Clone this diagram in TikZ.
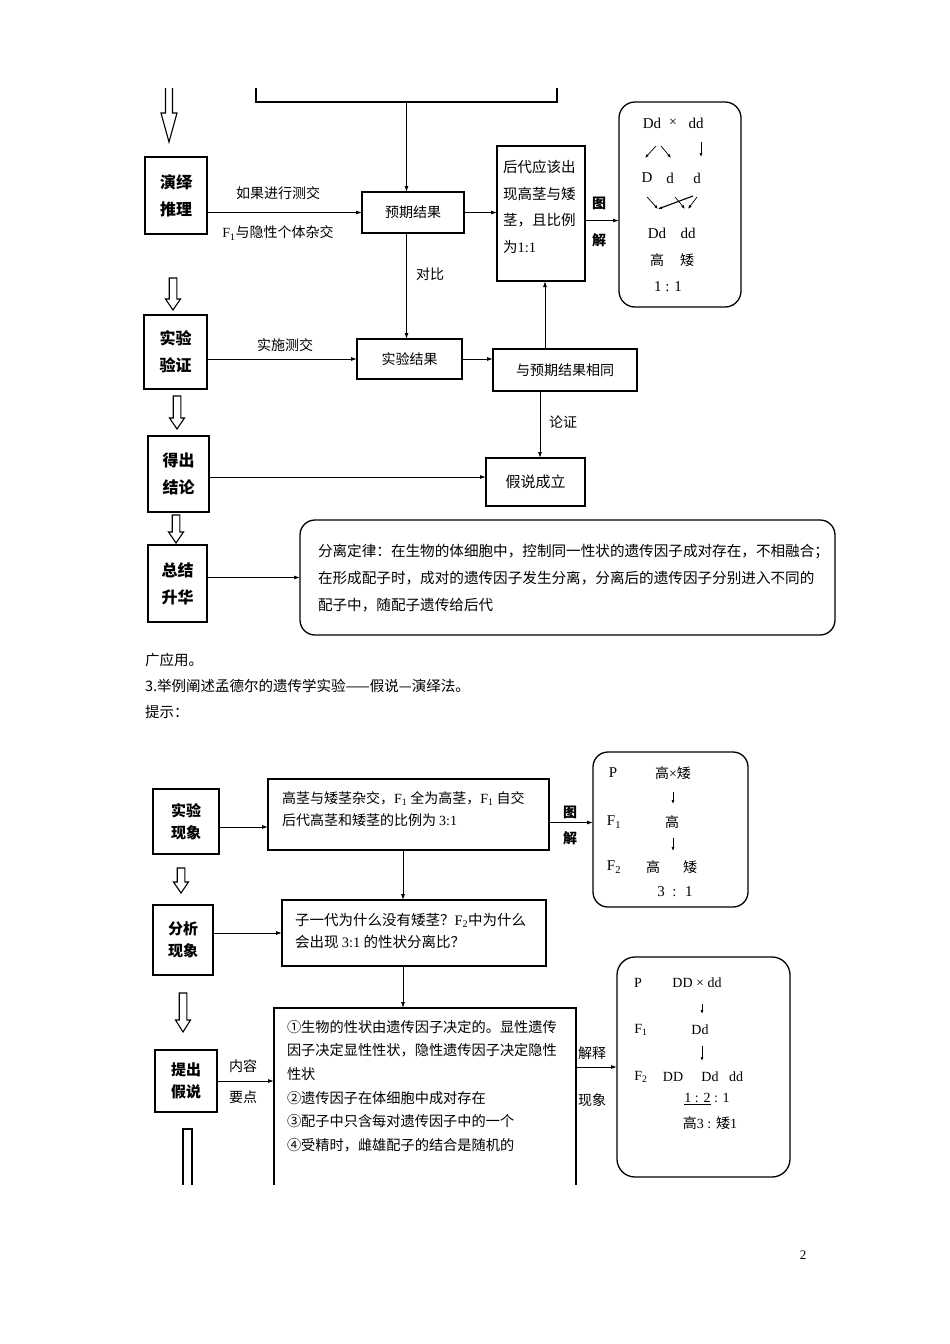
\documentclass[tikz,border=0pt]{standalone}
\usepackage{fontspec}
\setmainfont{Liberation Serif}
\newfontfamily\zh{Noto Sans CJK SC}
\usetikzlibrary{arrows.meta}
\newcommand\myF[1]{{\rmfamily F\textsubscript{#1}}}
\newcommand\hollowarr[4]{\draw[harrow] (#1-3.8,#2) -- (#1-3.8,#3-#4) -- (#1-7.5,#3-#4) -- (#1,#3) -- (#1+7.5,#3-#4) -- (#1+3.8,#3-#4) -- (#1+3.8,#2) -- cycle;}
\begin{document}
\begin{tikzpicture}[x=1pt,y=-1pt,
  every node/.style={inner sep=0pt, outer sep=0pt},
  box/.style={draw, line width=1.4pt},
  rbox/.style={draw, line width=1.3pt, rounded corners=16pt},
  conn/.style={line width=0.9pt, -{Latex[length=6pt,width=4pt]}},
  tiny/.style={line width=0.7pt, -{Latex[length=4pt,width=3pt]}},
  harrow/.style={line width=1.1pt},
  lab/.style={font=\zh\bfseries\fontsize{16}{27}\selectfont, align=center},
  labb/.style={font=\zh\bfseries\fontsize{15}{22}\selectfont, align=center},
  txt/.style={font=\zh\fontsize{14}{14}\selectfont},
  txtb/.style={font=\zh\bfseries\fontsize{14}{14}\selectfont},
  gen/.style={font=\rmfamily\fontsize{15}{15}\selectfont},
  gens/.style={font=\rmfamily\fontsize{14}{14}\selectfont},
]
\useasboundingbox (0,0) rectangle (950,1344);

% ===== top section =====
\node[minimum width=301pt, minimum height=14pt] (topbox) at (406.5,95) {};
\draw[box] (topbox.north west) -- (topbox.south west) -- (topbox.south east) -- (topbox.north east);
\draw[harrow] (165.5,88) -- (165.5,113) -- (161,113) -- (169,142) -- (177,113) -- (172.5,113) -- (172.5,88);

\node[box, minimum width=62pt, minimum height=77pt, lab] (yanyi) at (176,195.5) {演绎\\推理};
\node[box, minimum width=102pt, minimum height=41pt, txt] (yuqi) at (413,212.5) {预期结果};
\node[box, minimum width=88pt, minimum height=135pt] (houdai) at (541,213.5) {};
\node[anchor=west, align=left, font=\zh\fontsize{14.5}{26.7}\selectfont] (houdaiT) at (503,207) {后代应该出\\现高茎与矮\\茎，且比例\\为{\rmfamily 1:1}};
\node[rbox, minimum width=122pt, minimum height=205pt] (tu1) at (680,204.5) {};

\draw[conn] (topbox.south) -- (topbox.south |- yuqi.north);
\draw[conn] (yanyi.east |- yuqi.west) -- (yuqi.west);
\node[txt] (l1) at (278,193) {如果进行测交};
\node[txt] (l2) at (278,233) {\myF{1}与隐性个体杂交};
\draw[conn] (yuqi.east) -- (yuqi.east -| houdai.west);
\draw[conn] ([yshift=-7pt]houdai.east) -- ([yshift=-7pt]houdai.east -| tu1.west);
\node[txtb] (l3) at (599,203) {图};
\node[txtb] (l4) at (599,240) {解};

% tu1 contents
\node[gen] (a1) at (652,123) {Dd};
\node[gens] (a2) at (673,123) {×};
\node[gen] (a3) at (696,123) {dd};
\draw[tiny] (656,146) -- (645,158);
\draw[tiny] (661,146) -- (671,158);
\draw[tiny] (701,142) -- (701,157);
\node[gen] (b1) at (647,178) {D};
\node[gen] (b2) at (670,178) {d};
\node[gen] (b3) at (697,178) {d};
\draw[tiny] (647,197) -- (658,209);
\draw[tiny, line width=1.1pt] (693,196) -- (658,209);
\draw[tiny] (675,197) -- (685,209);
\draw[tiny] (697,197) -- (688,209);
\node[gen] (c1) at (657,233) {Dd};
\node[gen] (c2) at (688,233) {dd};
\node[txt] (c3) at (657,260) {高};
\node[txt] (c4) at (687,260) {矮};
\node[gen] (c5) at (668,287) {1 : 1};

\hollowarr{173}{278}{310}{11}
\node[box, minimum width=63pt, minimum height=74pt, lab] (yanzheng) at (175.5,352) {实验\\验证};
\node[box, minimum width=105pt, minimum height=40pt, txt] (shiyanjg) at (409.5,359) {实验结果};
\node[box, minimum width=144pt, minimum height=42pt, txt] (xiangtong) at (565,370) {与预期结果相同};
\draw[conn] (topbox.south |- yuqi.south) -- (topbox.south |- shiyanjg.north);
\node[txt] (l5) at (430,274) {对比};
\draw[conn] (yanzheng.east |- shiyanjg.west) -- (shiyanjg.west);
\node[txt] (l6) at (285,345) {实施测交};
\draw[conn] (shiyanjg.east) -- (shiyanjg.east -| xiangtong.west);
\draw[conn] ([xshift=-20pt]xiangtong.north) -- ([xshift=-20pt]xiangtong.north |- houdai.south);

\hollowarr{177}{396}{429}{11}
\node[box, minimum width=61pt, minimum height=76pt, lab] (dechu) at (178.5,474) {得出\\结论};
\node[box, minimum width=99pt, minimum height=48pt, font=\zh\fontsize{15}{15}\selectfont] (jiashuo) at (535.5,482) {假说成立};
\draw[conn] ([xshift=-25pt]xiangtong.south) -- ([xshift=-25pt]xiangtong.south |- jiashuo.north);
\node[txt] (l7) at (563,422) {论证};
\draw[conn] ([yshift=5pt]jiashuo.west -| dechu.east) -- ([yshift=5pt]jiashuo.west);

\hollowarr{176}{515}{543}{11}
\node[box, minimum width=59pt, minimum height=77pt, lab] (zongjie) at (177.5,583.5) {总结\\升华};
\node[rbox, rounded corners=15pt, minimum width=535pt, minimum height=115pt] (law) at (567.5,577.5) {};
\node[anchor=west, align=left, font=\zh\fontsize{14.6}{27}\selectfont] (lawT) at (318,578) {分离定律：在生物的体细胞中，控制同一性状的遗传因子成对存在，不相融合；\\在形成配子时，成对的遗传因子发生分离，分离后的遗传因子分别进入不同的\\配子中，随配子遗传给后代};
\draw[conn] (zongjie.east |- law.west) -- (law.west);

% ===== paragraph text =====
\node[anchor=west, align=left, font=\zh\fontsize{14.5}{26}\selectfont] (para) at (145,686) {广应用。\\3.举例阐述孟德尔的遗传学实验——假说—演绎法。\\提示：};

% ===== bottom section =====
\node[box, minimum width=66pt, minimum height=65pt, labb] (xianxiang) at (186,821.5) {实验\\现象};
\node[box, minimum width=281pt, minimum height=71pt] (gaojing) at (408.5,814.5) {};
\node[anchor=west, align=left, font=\zh\fontsize{14}{22}\selectfont] (gaojingT) at (282,809) {高茎与矮茎杂交，\myF{1} 全为高茎，\myF{1} 自交\\后代高茎和矮茎的比例为 {\rmfamily 3:1}};
\node[rbox, rounded corners=15pt, minimum width=155pt, minimum height=155pt] (tu3) at (670.5,829.5) {};
\draw[conn] ([yshift=-5.5pt]xianxiang.east) -- ([yshift=-5.5pt]xianxiang.east -| gaojing.west);
\draw[conn] ([yshift=-8pt]gaojing.east) -- ([yshift=-8pt]gaojing.east -| tu3.west);
\node[txtb] (l8) at (570,812) {图};
\node[txtb] (l9) at (570,838) {解};

% tu3 contents
\node[gen] (p1) at (613,773) {P};
\node[txt] (p2) at (673,773) {高{\rmfamily ×}矮};
\draw[tiny] (673,792) -- (673,804);
\node[gen] (p3) at (614,822) {\myF{1}};
\node[txt] (p4) at (672,822) {高};
\draw[tiny] (673,838) -- (673,851);
\node[gen] (p5) at (614,867) {\myF{2}};
\node[txt] (p6) at (653,867) {高};
\node[txt] (p7) at (690,867) {矮};
\node[gen] (p8) at (675,892) {3 \ : \ 1};

\hollowarr{181}{868}{893}{11}
\node[box, minimum width=60pt, minimum height=70pt, labb] (fenxi) at (183,940) {分析\\现象};
\node[box, minimum width=264pt, minimum height=66pt] (ziyidai) at (414,933) {};
\node[anchor=west, align=left, font=\zh\fontsize{14.5}{22}\selectfont] (ziyidaiT) at (295,931) {子一代为什么没有矮茎？\myF{2}中为什么\\会出现 {\rmfamily 3:1} 的性状分离比？};
\draw[conn] ([xshift=-5.5pt]gaojing.south) -- ([xshift=-5.5pt]gaojing.south |- ziyidai.north);
\draw[conn] (fenxi.east |- ziyidai.west) -- (ziyidai.west);

\hollowarr{183}{993}{1032}{12}
\node[box, minimum width=62pt, minimum height=62pt, labb] (tichu) at (186,1081) {提出\\假说};
\node[minimum width=302pt, minimum height=177pt] (neirong) at (425,1096.5) {};
\draw[box] (neirong.south west) -- (neirong.north west) -- (neirong.north east) -- (neirong.south east);
\node[anchor=west, align=left, font=\zh\fontsize{14.2}{23.6}\selectfont] (neirongT) at (287,1086) {①生物的性状由遗传因子决定的。显性遗传\\因子决定显性性状，隐性遗传因子决定隐性\\性状\\②遗传因子在体细胞中成对存在\\③配子中只含每对遗传因子中的一个\\④受精时，雌雄配子的结合是随机的};
\draw[conn] ([xshift=-11pt]ziyidai.south) -- ([xshift=-11pt]ziyidai.south |- neirong.north);
\draw[conn] (tichu.east) -- (tichu.east -| neirong.west);
\node[txt] (l10) at (243,1066) {内容};
\node[txt] (l11) at (243,1097) {要点};
\draw[harrow] (183,1185) -- (183,1129) -- (192,1129) -- (192,1185);

\node[rbox, rounded corners=18pt, minimum width=173pt, minimum height=220pt] (tu2) at (703.5,1067) {};
\draw[conn] (neirong.east |- tu2.west) -- (tu2.west);
\node[txt] (l12) at (592,1053) {解释};
\node[txt] (l13) at (592,1100) {现象};

% tu2 contents
\node[gens] (q1) at (638,983) {P};
\node[gens] (q2) at (697,983) {DD × dd};
\draw[tiny] (702,1004) -- (702,1014);
\node[gens] (q3) at (641,1030) {\myF{1}};
\node[gens] (q4) at (700,1030) {Dd};
\draw[tiny] (702,1046) -- (702,1061);
\node[gens] (q5) at (641,1077) {\myF{2}};
\node[gens] (q6) at (673,1077) {DD};
\node[gens] (q7) at (710,1077) {Dd};
\node[gens] (q8) at (736,1077) {dd};
\node[gens] (q9) at (707,1099) {\underline{1 : 2} : 1};
\node[font=\zh\fontsize{14}{14}\selectfont] (q10) at (710,1123) {高{\rmfamily 3 : }矮{\rmfamily 1}};

\node[font=\rmfamily\fontsize{13}{13}\selectfont] (pagenum) at (803,1255) {2};
\end{tikzpicture}
\end{document}
